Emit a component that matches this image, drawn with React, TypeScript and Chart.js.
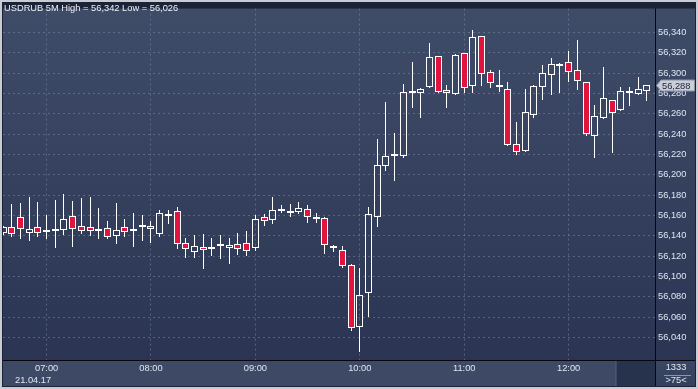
import React, { useEffect, useRef } from "react";
import { Chart, registerables } from "chart.js";

Chart.register(...registerables);

// ---- data ----
const SYMBOL = "USDRUB";
const PERIOD = "5M";
const DATE_LABEL = "21.04.17";
const SIDE_NUMBER = "1333";
const BAR_COUNT_LABEL = ">75<";

const TIMES = [
  "06:35", "06:40", "06:45", "06:50", "06:55",
  "07:00", "07:05", "07:10", "07:15", "07:20", "07:25", "07:30", "07:35", "07:40", "07:45", "07:50", "07:55",
  "08:00", "08:05", "08:10", "08:15", "08:20", "08:25", "08:30", "08:35", "08:40", "08:45", "08:50", "08:55",
  "09:00", "09:05", "09:10", "09:15", "09:20", "09:25", "09:30", "09:35", "09:40", "09:45", "09:50", "09:55",
  "10:00", "10:05", "10:10", "10:15", "10:20", "10:25", "10:30", "10:35", "10:40", "10:45", "10:50", "10:55",
  "11:00", "11:05", "11:10", "11:15", "11:20", "11:25", "11:30", "11:35", "11:40", "11:45", "11:50", "11:55",
  "12:00", "12:05", "12:10", "12:15", "12:20", "12:25", "12:30", "12:35", "12:40", "12:45",
];

const OPEN = [
  56.143, 56.149, 56.158, 56.143, 56.149, 56.144, 56.147, 56.146, 56.159, 56.150,
  56.149, 56.145, 56.148, 56.140, 56.149, 56.145, 56.149, 56.150, 56.142, 56.159,
  56.164, 56.133, 56.124, 56.129, 56.127, 56.130, 56.128, 56.132, 56.133, 56.128,
  56.158, 56.155, 56.165, 56.163, 56.163, 56.166, 56.156, 56.157, 56.130, 56.126,
  56.111, 56.050, 56.084, 56.158, 56.209, 56.219, 56.218, 56.280, 56.280, 56.286,
  56.317, 56.283, 56.279, 56.320, 56.287, 56.337, 56.301, 56.288, 56.284, 56.230,
  56.223, 56.259, 56.286, 56.298, 56.307, 56.311, 56.303, 56.291, 56.238, 56.256,
  56.274, 56.264, 56.280, 56.279, 56.282,
];
const HIGH = [
  56.150, 56.171, 56.172, 56.178, 56.173, 56.160, 56.175, 56.181, 56.174, 56.177,
  56.178, 56.167, 56.154, 56.172, 56.156, 56.162, 56.160, 56.154, 56.165, 56.165,
  56.168, 56.138, 56.141, 56.142, 56.138, 56.141, 56.138, 56.143, 56.145, 56.160,
  56.161, 56.178, 56.170, 56.171, 56.173, 56.170, 56.162, 56.158, 56.131, 56.130,
  56.112, 56.108, 56.168, 56.235, 56.272, 56.241, 56.289, 56.311, 56.285, 56.330,
  56.317, 56.288, 56.319, 56.320, 56.342, 56.337, 56.303, 56.303, 56.291, 56.252,
  56.284, 56.288, 56.308, 56.315, 56.310, 56.322, 56.333, 56.291, 56.269, 56.306,
  56.274, 56.286, 56.286, 56.296, 56.288,
];
const LOW = [
  56.141, 56.139, 56.137, 56.135, 56.139, 56.137, 56.128, 56.141, 56.129, 56.142,
  56.140, 56.137, 56.137, 56.132, 56.139, 56.129, 56.135, 56.133, 56.139, 56.152,
  56.127, 56.118, 56.118, 56.107, 56.120, 56.117, 56.112, 56.121, 56.120, 56.125,
  56.150, 56.152, 56.162, 56.158, 56.161, 56.153, 56.153, 56.122, 56.124, 56.108,
  56.046, 56.026, 56.060, 56.149, 56.204, 56.194, 56.216, 56.266, 56.256, 56.285,
  56.280, 56.266, 56.278, 56.280, 56.280, 56.287, 56.285, 56.281, 56.228, 56.219,
  56.222, 56.256, 56.274, 56.278, 56.280, 56.291, 56.283, 56.238, 56.216, 56.255,
  56.221, 56.263, 56.268, 56.278, 56.273,
];
const CLOSE = [
  56.149, 56.142, 56.147, 56.147, 56.143, 56.146, 56.145, 56.156, 56.147, 56.145,
  56.145, 56.146, 56.139, 56.146, 56.144, 56.147, 56.151, 56.147, 56.162, 56.161,
  56.132, 56.127, 56.130, 56.126, 56.129, 56.131, 56.131, 56.127, 56.125, 56.156,
  56.154, 56.165, 56.166, 56.164, 56.167, 56.158, 56.158, 56.131, 56.128, 56.110,
  56.049, 56.082, 56.161, 56.210, 56.218, 56.220, 56.281, 56.282, 56.284, 56.316,
  56.281, 56.280, 56.318, 56.285, 56.336, 56.299, 56.290, 56.286, 56.229, 56.222,
  56.262, 56.287, 56.300, 56.309, 56.309, 56.301, 56.292, 56.240, 56.258, 56.276,
  56.261, 56.282, 56.282, 56.284, 56.288,
];

const PRICE_TICKS = [
  56.04, 56.06, 56.08, 56.1, 56.12, 56.14, 56.16, 56.18,
  56.2, 56.22, 56.24, 56.26, 56.28, 56.3, 56.32, 56.34,
];

const Y_MIN = 56.0177;
const Y_MAX = 56.3635;

// ---- styles ----
const RED = "#e0143c";
const WHITE = "#ffffff";
const TEXT = "#dfe6f2";
const GRID = "rgba(125,142,172,0.5)";
const FONT = "'Liberation Sans', Arial, sans-serif";
const FS = 9.3;

const fmt = (v: number) => v.toFixed(3).replace(".", ",");

// snap candle elements to whole pixels so 1px strokes stay crisp
const snapPlugin = {
  id: "snapPlugin",
  beforeDatasetsDraw(chart: any) {
    chart.data.datasets.forEach((_: any, di: number) => {
      const meta = chart.getDatasetMeta(di);
      meta.data.forEach((el: any) => {
        el.x = Math.floor(el.x) + 0.5;
        el.y = Math.round(el.y);
        el.base = Math.round(el.base);
      });
    });
  },
};

const bgPlugin = {
  id: "bgPlugin",
  beforeDraw(chart: any) {
    const { ctx, width, height } = chart;
    const { left, top, right, bottom } = chart.chartArea;
    ctx.save();
    ctx.fillStyle = "#c8ccd4";
    ctx.fillRect(0, 0, width, height);
    ctx.fillStyle = "#1c2336";
    ctx.fillRect(2, 2, width - 4, height - 4);
    const g = ctx.createLinearGradient(0, top, 0, bottom);
    g.addColorStop(0, "#3f4c68");
    g.addColorStop(1, "#2b3553");
    ctx.fillStyle = g;
    ctx.fillRect(left, top, right - left, bottom - top);
    ctx.fillRect(right, top, width - 3 - right, bottom - top);
    ctx.fillStyle = "#3e4a65";
    ctx.fillRect(left, bottom, right - left, height - 3 - bottom);
    ctx.fillStyle = "#27324d";
    ctx.fillRect(617, bottom + 1, right - 617, height - 4 - bottom);
    ctx.fillStyle = "#4a5570";
    ctx.fillRect(615, bottom + 1, 1, height - 4 - bottom);
    const g2 = ctx.createLinearGradient(0, bottom, 0, height - 3);
    g2.addColorStop(0, "#3a4764");
    g2.addColorStop(1, "#34405c");
    ctx.fillStyle = g2;
    ctx.fillRect(right, bottom, width - 3 - right, height - 3 - bottom);
    ctx.restore();
  },
  afterDraw(chart: any) {
    const { ctx, width, height } = chart;
    const { left, top, right, bottom } = chart.chartArea;
    ctx.save();
    ctx.fillStyle = "#06080e";
    ctx.fillRect(right, top, 1, height - 3 - top);
    ctx.fillRect(left, bottom, width - 3 - left, 1);
    // corner separator
    ctx.fillStyle = "#8a96ae";
    ctx.fillRect(664, 375, 27, 1);
    // last price tag
    const last = CLOSE[CLOSE.length - 1];
    const y = Math.round(chart.scales.y.getPixelForValue(last)) + 0.5;
    ctx.beginPath();
    ctx.moveTo(right + 1.5, y);
    ctx.lineTo(right + 6, y - 5.5);
    ctx.lineTo(width - 3.5, y - 5.5);
    ctx.lineTo(width - 3.5, y + 5.5);
    ctx.lineTo(right + 6, y + 5.5);
    ctx.closePath();
    ctx.fillStyle = "#c9ced8";
    ctx.fill();
    ctx.strokeStyle = "#8c93a3";
    ctx.lineWidth = 1;
    ctx.stroke();
    ctx.fillStyle = "#1c2240";
    ctx.font = `${FS}px ${FONT}`;
    ctx.textBaseline = "middle";
    ctx.textAlign = "left";
    ctx.fillText(fmt(last), right + 7, y + 0.5);
    ctx.restore();
  },
};

export default function App() {
  const ref = useRef<HTMLCanvasElement | null>(null);

  useEffect(() => {
    const canvas = ref.current;
    if (!canvas) return;
    const idx = TIMES.map((_, i) => i);
    const bull = (i: number) => CLOSE[i] >= OPEN[i];
    const bodies = idx.map((i) => {
      let a = Math.min(OPEN[i], CLOSE[i]);
      let b = Math.max(OPEN[i], CLOSE[i]);
      if (b - a < 0.002) {
        const m = (a + b) / 2;
        a = m - 0.001;
        b = m + 0.001;
      }
      return { x: i, y: [a, b] };
    });
    const upper = idx.map((i) => ({ x: i, y: [Math.max(OPEN[i], CLOSE[i]), HIGH[i]] }));
    const lower = idx.map((i) => ({ x: i, y: [LOW[i], Math.min(OPEN[i], CLOSE[i])] }));
    const hourTicks = idx.filter((i) => TIMES[i].endsWith(":00"));

    const chart = new Chart(canvas, {
      type: "bar",
      data: {
        datasets: [
          {
            label: "body",
            data: bodies as any,
            backgroundColor: idx.map((i) => (bull(i) ? "rgba(0,0,0,0)" : RED)),
            borderColor: WHITE,
            borderWidth: 1,
            borderSkipped: false,
            barThickness: 7,
            grouped: false,
            inflateAmount: 0,
          } as any,
          {
            label: "upper",
            data: upper as any,
            backgroundColor: WHITE,
            borderWidth: 0,
            barThickness: 1,
            grouped: false,
            inflateAmount: 0,
          } as any,
          {
            label: "lower",
            data: lower as any,
            backgroundColor: WHITE,
            borderWidth: 0,
            barThickness: 1,
            grouped: false,
            inflateAmount: 0,
          } as any,
        ],
      },
      options: {
        animation: false,
        responsive: false,
        maintainAspectRatio: false,
        events: [],
        layout: { padding: { left: 3, top: 3, right: 3, bottom: 3 } },
        plugins: { legend: { display: false }, tooltip: { enabled: false }, title: { display: false } },
        scales: {
          x: {
            type: "linear",
            offset: false,
            min: -0.01,
            max: 74.93,
            afterFit: (s: any) => {
              s.height = 26;
            },
            afterBuildTicks: (s: any) => {
              s.ticks = hourTicks.map((v) => ({ value: v }));
            },
            ticks: {
              callback: (v: any) => TIMES[Math.round(Number(v))],
              color: TEXT,
              font: { family: FONT, size: FS },
              padding: 3,
              maxRotation: 0,
              autoSkip: false,
            },
            grid: { color: GRID, drawTicks: false, lineWidth: 1, offset: false },
            border: { display: false, dash: [2, 3] },
          } as any,
          y: {
            type: "linear",
            position: "right",
            min: Y_MIN,
            max: Y_MAX,
            afterFit: (s: any) => {
              s.width = 40;
            },
            afterBuildTicks: (s: any) => {
              s.ticks = PRICE_TICKS.map((v) => ({ value: v }));
            },
            ticks: {
              callback: (v: any) => fmt(Number(v)),
              color: TEXT,
              font: { family: FONT, size: FS },
              padding: 3,
              autoSkip: false,
            },
            grid: { color: GRID, drawTicks: false, lineWidth: 1 },
            border: { display: false, dash: [2, 3] },
          } as any,
        },
      },
      plugins: [bgPlugin, snapPlugin],
    });
    return () => chart.destroy();
  }, []);

  const hi = Math.max(...HIGH);
  const lo = Math.min(...LOW);
  const textStyle: React.CSSProperties = {
    position: "absolute",
    fontFamily: FONT,
    fontSize: FS,
    lineHeight: "11px",
    whiteSpace: "nowrap",
  };

  return (
    <div style={{ position: "fixed", left: 0, top: 0, width: 698, height: 389, overflow: "hidden" }}>
      <canvas ref={ref} width={698} height={389} style={{ display: "block", width: 698, height: 389 }} />
      <div style={{ ...textStyle, left: 4, top: 3, color: "#eef2fa" }}>
        {`${SYMBOL} ${PERIOD} High = ${fmt(hi)} Low = ${fmt(lo)}`}
      </div>
      <div style={{ ...textStyle, left: 15, top: 375, color: TEXT }}>{DATE_LABEL}</div>
      <div style={{ ...textStyle, left: 656, width: 40, textAlign: "center", top: 362, color: TEXT }}>{SIDE_NUMBER}</div>
      <div style={{ ...textStyle, left: 656, width: 40, textAlign: "center", top: 375, color: TEXT }}>{BAR_COUNT_LABEL}</div>
    </div>
  );
}
